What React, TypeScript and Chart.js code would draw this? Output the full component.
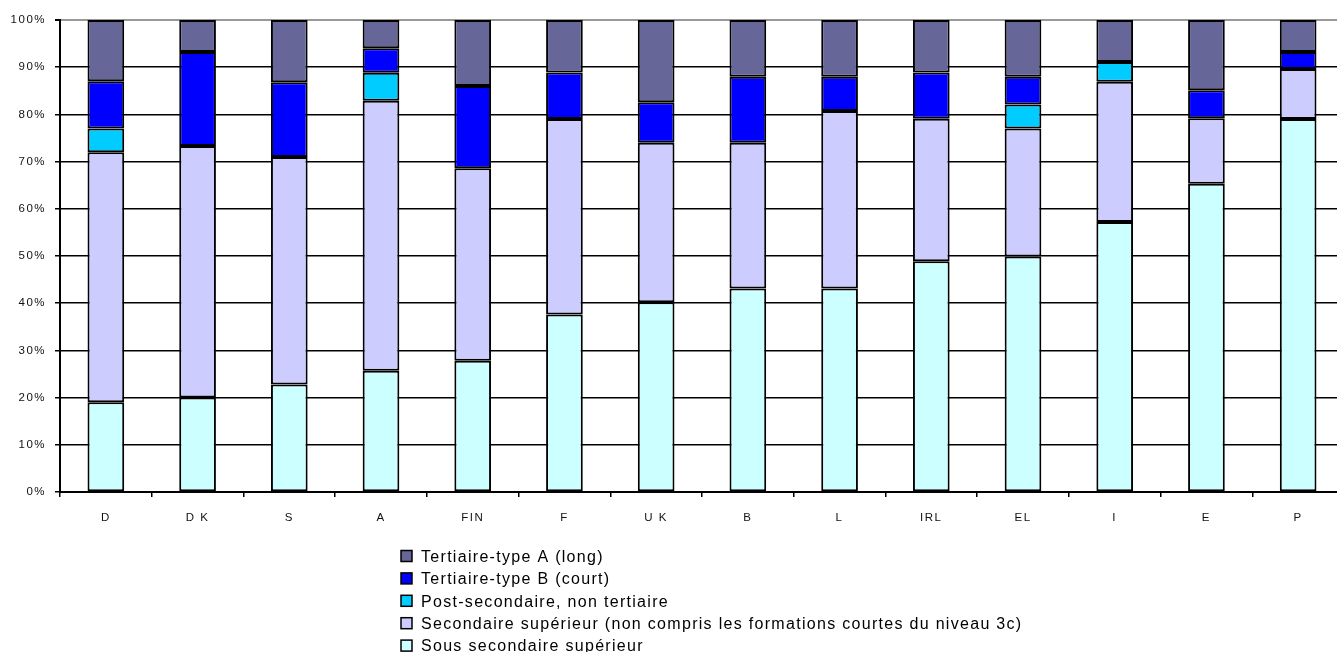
import React, { useEffect, useRef } from "react";
import { Chart, registerables } from "chart.js";

Chart.register(...registerables);

// Countries along the horizontal axis
const countries = ["D", "D K", "S", "A", "FIN", "F", "U K", "B", "L", "IRL", "EL", "I", "E", "P"];

// Share of each education level (percent), stacked from the bottom up
const sousSecondaire = [19, 20, 22.8, 25.7, 27.8, 37.6, 40.2, 43.1, 43.1, 48.9, 49.9, 57.2, 65.3, 79];
const secondaireSup = [53, 53.3, 48.2, 57.2, 40.8, 41.4, 33.8, 30.9, 37.6, 30.2, 27.1, 29.7, 13.9, 10.6];
const postSecondaire = [5, null, null, 5.9, null, null, null, null, null, null, 5.1, 4.2, null, null];
const tertiaireB = [10, 19.9, 15.8, 5.2, 17.4, 9.9, 8.6, 14, 7.3, 9.8, 5.9, null, 5.9, 3.6];
const tertiaireA = [13, 6.8, 13.2, 6, 14, 11.1, 17.4, 12, 12, 11.1, 12, 8.9, 14.9, 6.8];

const seriesLabels = [
  "Sous secondaire supérieur",
  "Secondaire supérieur (non compris les formations courtes du niveau 3c)",
  "Post-secondaire, non tertiaire",
  "Tertiaire-type B (court)",
  "Tertiaire-type A (long)",
];
const seriesColors = ["#CCFFFF", "#CCCCFF", "#00CCFF", "#0000FF", "#666699"];

const yTicks = [0, 10, 20, 30, 40, 50, 60, 70, 80, 90, 100];

const FONT = "'Liberation Sans', Arial, sans-serif";

// Spaced-out lettering for the axis text
const spacingPlugin = {
  id: "letterSpacing",
  beforeDraw(chart: any) {
    (chart.ctx as any).letterSpacing = "1.5px";
  },
};

// One-entry-per-line legend, top series first
const stackedLegend = {
  id: "stackedLegend",
  afterDraw(chart: any) {
    const ctx = chart.ctx as CanvasRenderingContext2D;
    const datasets = chart.data.datasets.slice().reverse();
    ctx.save();
    (ctx as any).letterSpacing = "1.3px";
    ctx.font = `16px ${FONT}`;
    ctx.textAlign = "left";
    ctx.textBaseline = "alphabetic";
    datasets.forEach((ds: any, i: number) => {
      const cy = 556 + i * 22.4;
      ctx.fillStyle = ds.backgroundColor;
      ctx.fillRect(401, cy - 5.5, 11, 11);
      ctx.strokeStyle = "#000";
      ctx.lineWidth = 1.5;
      ctx.strokeRect(401, cy - 5.5, 11, 11);
      ctx.fillStyle = "#000";
      ctx.fillText(ds.label, 421, cy + 5.8);
    });
    ctx.restore();
  },
};

export default function App() {
  const canvasRef = useRef<HTMLCanvasElement | null>(null);

  useEffect(() => {
    if (!canvasRef.current) return;
    const series = [sousSecondaire, secondaireSup, postSecondaire, tertiaireB, tertiaireA];
    const chart = new Chart(canvasRef.current, {
      type: "bar",
      data: {
        labels: countries,
        datasets: series.map((values, i) => ({
          label: seriesLabels[i],
          data: values,
          backgroundColor: seriesColors[i],
          borderColor: "#000",
          borderWidth: 2,
          borderSkipped: false,
          barPercentage: 0.4,
          categoryPercentage: 1,
        })),
      },
      options: {
        responsive: false,
        animation: false,
        events: [],
        layout: { padding: { top: 20, left: 0, right: 1, bottom: 120 } },
        plugins: {
          legend: { display: false },
          tooltip: { enabled: false },
        },
        scales: {
          x: {
            stacked: true,
            afterFit: (scale: any) => {
              scale.height = 40;
            },
            grid: {
              display: true,
              drawOnChartArea: false,
              drawTicks: true,
              tickLength: 5,
              color: "#000",
              lineWidth: 1.5,
              offset: true,
            },
            border: { display: true, color: "#000", width: 2 },
            ticks: {
              autoSkip: false,
              maxRotation: 0,
              padding: 14,
              color: "#111",
              font: { family: FONT, size: 11.5 },
            },
          },
          y: {
            stacked: true,
            min: 0,
            max: 100,
            afterFit: (scale: any) => {
              scale.width = 60;
            },
            afterBuildTicks: (scale: any) => {
              scale.ticks = yTicks.map((v) => ({ value: v }));
            },
            grid: {
              color: (c: any) => (c.tick && c.tick.value === 100 ? "#999" : "#000"),
              lineWidth: (c: any) => (c.tick && c.tick.value === 100 ? 2 : 1.5),
              tickColor: "#000",
              tickLength: 5,
            },
            border: { display: true, color: "#000", width: 2 },
            ticks: {
              padding: 9,
              color: "#111",
              font: { family: FONT, size: 11.5 },
              callback: (v: any) => `${v}%`,
            },
          },
        },
      },
      plugins: [spacingPlugin, stackedLegend],
    });
    return () => chart.destroy();
  }, []);

  return (
    <canvas
      ref={canvasRef}
      width={1345}
      height={652}
      style={{ position: "fixed", left: 0, top: 0, width: 1345, height: 652 }}
    />
  );
}
